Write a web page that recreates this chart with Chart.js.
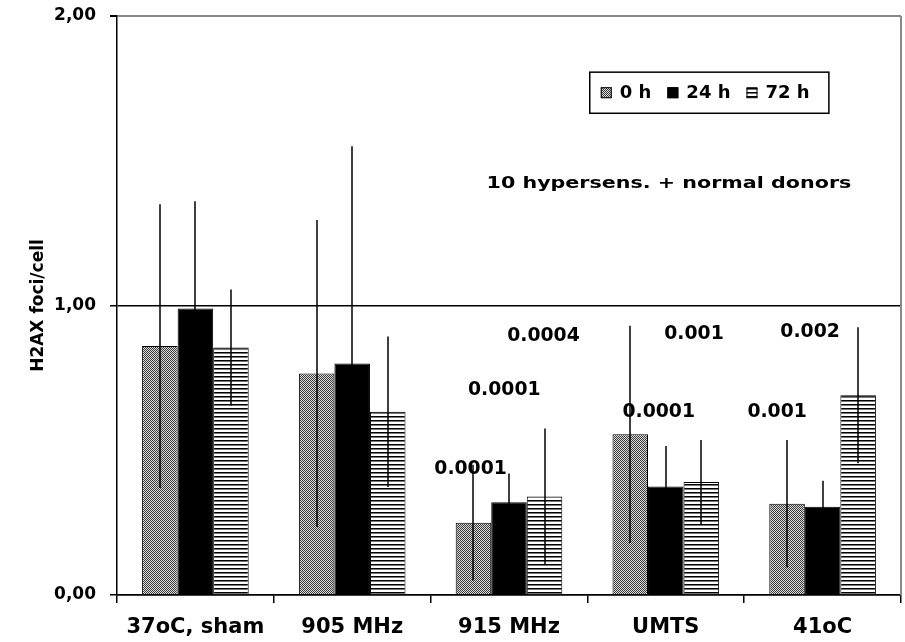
<!DOCTYPE html>
<html>
<head>
<meta charset="utf-8">
<script src="https://cdn.jsdelivr.net/npm/chart.js@4.4.1/dist/chart.umd.min.js"></script>
<style>
  html, body { margin: 0; padding: 0; background: #fff; }
  canvas { display: block; }
</style>
</head>
<body>
<canvas id="chart" width="905" height="642"></canvas>
<script>
// --- Data ---
const categories = ['37oC, sham', '905 MHz', '915 MHz', 'UMTS', '41oC'];
const seriesNames = ['0 h', '24 h', '72 h'];
const h0 = [0.86, 0.765, 0.25, 0.555, 0.315];
const h24 = [0.99, 0.80, 0.32, 0.375, 0.305];
const h72 = [0.855, 0.633, 0.34, 0.39, 0.69];
const sd0 = [0.49, 0.53, 0.20, 0.375, 0.22];
const sd24 = [0.37, 0.75, 0.10, 0.14, 0.09];
const sd72 = [0.20, 0.26, 0.235, 0.145, 0.235];
const yTicks = [0, 1, 2];

// p-value labels: [category position, value, text]
const pLabels = [
  [1.755, 0.436, '0.0001'],
  [1.97, 0.71, '0.0001'],
  [2.22, 0.896, '0.0004'],
  [2.955, 0.633, '0.0001'],
  [3.18, 0.903, '0.001'],
  [3.71, 0.633, '0.001'],
  [3.92, 0.91, '0.002']
];
const noteText = '10 hypersens. + normal donors';
const notePos = [3.02, 1.42];

const FONT = 'DejaVu Sans';

// --- Fill patterns ---
function makePattern(w, h, draw) {
  const c = document.createElement('canvas');
  c.width = w; c.height = h;
  const g = c.getContext('2d');
  draw(g);
  return g.createPattern(c, 'repeat');
}
const checker = makePattern(2, 2, g => {
  g.fillStyle = '#dcdcdc'; g.fillRect(0, 0, 2, 2);
  g.fillStyle = '#3a3a3a';
  g.fillRect(0, 0, 1, 1); g.fillRect(1, 1, 1, 1);
});
const stripes = makePattern(4, 4, g => {
  g.fillStyle = '#fff'; g.fillRect(0, 0, 4, 4);
  g.fillStyle = '#000'; g.fillRect(0, 0, 4, 1);
  g.fillStyle = '#777'; g.fillRect(0, 1, 4, 1);
});
const fills = [checker, '#000', stripes];
const errors = [sd0, sd24, sd72];

// --- Extra drawing: error bars, labels, legend box, frame ---
const extras = {
  id: 'extras',
  afterDatasetsDraw(chart) {
    const ctx = chart.ctx;
    const xs = chart.scales.x, ys = chart.scales.y;
    const area = chart.chartArea;
    ctx.save();

    // right frame line
    ctx.strokeStyle = '#888';
    ctx.lineWidth = 2;
    ctx.beginPath();
    ctx.moveTo(area.right, area.top);
    ctx.lineTo(area.right, area.bottom);
    ctx.stroke();

    // error bars
    ctx.strokeStyle = '#000';
    ctx.lineWidth = 1.5;
    errors.forEach((sd, i) => {
      const meta = chart.getDatasetMeta(i);
      meta.data.forEach((bar, j) => {
        const v = chart.data.datasets[i].data[j];
        const bx = Math.round(bar.x);
        ctx.beginPath();
        ctx.moveTo(bx, ys.getPixelForValue(v - sd[j]));
        ctx.lineTo(bx, ys.getPixelForValue(v + sd[j]));
        ctx.stroke();
      });
    });

    // p-values
    ctx.fillStyle = '#000';
    ctx.textAlign = 'center';
    ctx.textBaseline = 'middle';
    ctx.font = 'bold 20px "' + FONT + '"';
    pLabels.forEach(([c, v, t]) => {
      ctx.save();
      ctx.translate(xs.getPixelForValue(c), ys.getPixelForValue(v));
      ctx.scale(0.94, 1);
      ctx.fillText(t, 0, 0);
      ctx.restore();
    });

    // note text
    ctx.font = 'bold 16px "' + FONT + '"';
    ctx.save();
    ctx.translate(xs.getPixelForValue(notePos[0]), ys.getPixelForValue(notePos[1]));
    ctx.scale(1.29, 1);
    ctx.fillText(noteText, 0, 0);
    ctx.restore();

    // legend box
    const w = area.right - area.left, h = area.bottom - area.top;
    const bx0 = area.left + w * 0.603, bx1 = area.left + w * 0.908;
    const by0 = area.top + h * 0.097, by1 = area.top + h * 0.168;
    ctx.lineWidth = 1.5;
    ctx.strokeStyle = '#000';
    ctx.strokeRect(bx0, by0, bx1 - bx0, by1 - by0);
    const cy = (by0 + by1) / 2;
    let lx = bx0 + 11;
    ctx.font = 'bold 18px "' + FONT + '"';
    ctx.textAlign = 'left';
    chart.data.datasets.forEach(ds => {
      ctx.fillStyle = ds.backgroundColor;
      ctx.fillRect(lx, cy - 5.5, 11, 11);
      ctx.lineWidth = 1;
      ctx.strokeRect(lx + 0.5, cy - 5, 10, 10);
      ctx.fillStyle = '#000';
      ctx.fillText(ds.label, lx + 19, cy + 1);
      lx += 19 + ctx.measureText(ds.label).width + 16;
    });

    ctx.restore();
  }
};

// --- Chart ---
new Chart(document.getElementById('chart'), {
  type: 'bar',
  data: {
    labels: categories,
    datasets: seriesNames.map((name, i) => ({
      label: name,
      data: [h0, h24, h72][i],
      backgroundColor: fills[i],
      borderColor: '#000',
      borderWidth: 1,
      categoryPercentage: 0.68,
      barPercentage: 1.0
    }))
  },
  options: {
    responsive: false,
    animation: false,
    devicePixelRatio: 1,
    layout: { padding: { top: 16, right: 4, left: 0, bottom: 0 } },
    plugins: { legend: { display: false }, tooltip: { enabled: false } },
    scales: {
      x: {
        afterFit: s => { s.height = 47; },
        grid: { offset: true, drawOnChartArea: false, color: '#000', lineWidth: 1.5, tickLength: 8 },
        border: { color: '#000', width: 1.5 },
        ticks: {
          color: '#000', padding: 12, maxRotation: 0, autoSkip: false,
          font: { family: FONT, size: 21, weight: 'bold' }
        }
      },
      y: {
        min: yTicks[0],
        max: yTicks[yTicks.length - 1],
        afterFit: s => { s.width = 117; s.paddingTop = 0; s.paddingBottom = 0; },
        afterBuildTicks: s => { s.ticks = yTicks.map(v => ({ value: v })); },
        grid: {
          color: c => (c.tick && c.tick.value === 2 ? '#888' : '#000'),
          lineWidth: c => (c.tick && c.tick.value === 2 ? 2 : 1.5),
          tickColor: '#000',
          tickLength: 7
        },
        border: { color: '#000', width: 1.5 },
        ticks: {
          color: '#000', padding: 14,
          font: { family: FONT, size: 17, weight: 'bold' },
          callback: v => v.toFixed(2).replace('.', ',')
        },
        title: {
          display: true, text: 'H2AX foci/cell', color: '#000',
          font: { family: FONT, size: 17, weight: 'bold' },
          padding: { top: 28, bottom: 0 }
        }
      }
    }
  },
  plugins: [extras]
});
</script>
</body>
</html>
